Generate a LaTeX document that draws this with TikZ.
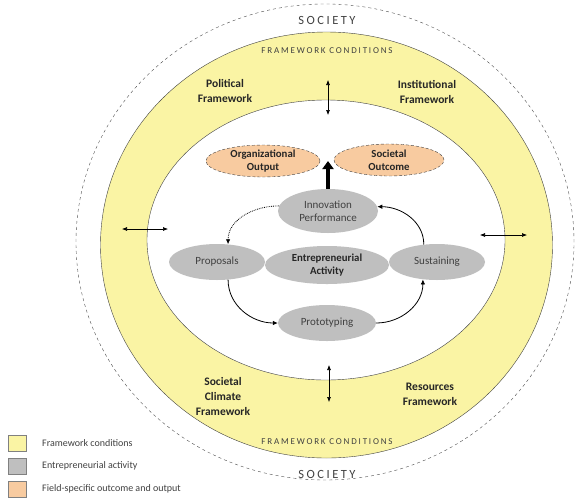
\documentclass[tikz,border=0pt]{standalone}
\usepackage{fontspec}
\setmainfont{Carlito}
\newfontfamily\spacedfont[LetterSpace=20]{Carlito}
\usetikzlibrary{shapes.geometric,arrows.meta}
\definecolor{fwyellow}{RGB}{250,244,164}
\definecolor{actgray}{RGB}{191,191,191}
\definecolor{outorange}{RGB}{248,203,160}
\definecolor{txtgray}{RGB}{64,64,64}
\begin{document}
\begin{tikzpicture}[x=1pt,y=-1pt,
  every node/.style={inner sep=0pt},
  act/.style={ellipse, fill=actgray, text=txtgray, align=center, font=\fontsize{11}{12.7}\selectfont},
  outc/.style={ellipse, draw=txtgray, densely dashed, fill=outorange, text=black!85, inner ysep=-1pt, align=center, font=\fontsize{10.8}{12.7}\selectfont\bfseries},
  fw/.style={align=center, text=black!85, font=\fontsize{11.5}{15}\selectfont\bfseries},
  spaced/.style={text=txtgray, font=\fontsize{#1}{13}\spacedfont},
  cyclearrow/.style={-{Latex[length=5pt,width=4.5pt]}, thick},
  dbl/.style={{Latex[length=5pt,width=4pt]}-{Latex[length=5pt,width=4pt]}, semithick},
  legbox/.style={draw=gray, minimum width=18pt, minimum height=16pt},
  legtext/.style={anchor=west, text=txtgray, font=\fontsize{10}{12}\selectfont}]
\useasboundingbox (0,0) rectangle (575,499);
% rings
\draw[dashed, black!70] (325,242) ellipse [x radius=249pt, y radius=238pt];
\draw[fill=fwyellow, draw=black!75] (326.5,245) ellipse [x radius=226pt, y radius=213pt];
\draw[fill=white, draw=black!75] (326,240) ellipse [x radius=179pt, y radius=140pt];
% ring labels
\node[spaced=12.5] (soctop) at (327,20.5) {SOCIETY};
\node[spaced=12.5] (socbot) at (327,474.5) {SOCIETY};
\node[spaced=9] (fctop) at (327,51) {FRAMEWORK CONDITIONS};
\node[spaced=9] (fcbot) at (327,441.5) {FRAMEWORK CONDITIONS};
\node[fw] (pol) at (225,91) {Political\\Framework};
\node[fw] (inst) at (427,92) {Institutional\\Framework};
\node[fw] (socclim) at (223,396) {Societal\\Climate\\Framework};
\node[fw] (res) at (430,394) {Resources\\Framework};
% activity
\node[act, minimum width=100pt, minimum height=44pt] (inno) at (328,211) {Innovation\\Performance};
\node[act, minimum width=96pt, minimum height=36pt] (prop) at (217,262) {Proposals};
\node[act, minimum width=124pt, minimum height=38pt, text=black!85, font=\fontsize{10.8}{12.7}\selectfont\bfseries] (entre) at (327,265) {Entrepreneurial\\Activity};
\node[act, minimum width=96pt, minimum height=36pt] (sust) at (437,262) {Sustaining};
\node[act, minimum width=98pt, minimum height=36pt] (proto) at (327,323) {Prototyping};
\node[outc, minimum width=114pt, minimum height=32pt] (orgout) at (263,161) {Organizational\\Output};
\node[outc, minimum width=110pt, minimum height=32pt] (socout) at (389,160) {Societal\\Outcome};
\coordinate (outtip) at (328,161);
\draw[line width=4pt, -{Triangle[length=8pt,width=11pt]}] (inno.north) -- (outtip);
\draw[cyclearrow, densely dotted] (inno.174) to[out=180,in=90] (prop.58);
\draw[cyclearrow] (prop.-58) to[out=-90,in=180] (proto.west);
\draw[cyclearrow] (proto.east) to[out=0,in=-90] (sust.-129);
\draw[cyclearrow] (sust.127) to[out=90,in=0] (inno.5);
% exchange with framework
\coordinate (ntop) at (328,80);  \coordinate (nbot) at (328,115);
\coordinate (stop) at (329,365); \coordinate (sbot) at (329,402);
\coordinate (wl) at (122,229);   \coordinate (wr) at (168,229);
\coordinate (el) at (480,235);   \coordinate (er) at (527,235);
\foreach \a/\b in {ntop/nbot, stop/sbot, wl/wr, el/er}
  \draw[dbl] (\a) -- (\b);
% legend
\foreach \i/\y/\c/\t in {1/443/fwyellow/Framework conditions, 2/466/actgray/Entrepreneurial activity, 3/489/outorange/Field-specific outcome and output} {
  \node[legbox, fill=\c] (lbox\i) at (17,\y) {};
  \node[legtext] (ltext\i) at (42,\y) {\t};
}
\end{tikzpicture}
\end{document}
